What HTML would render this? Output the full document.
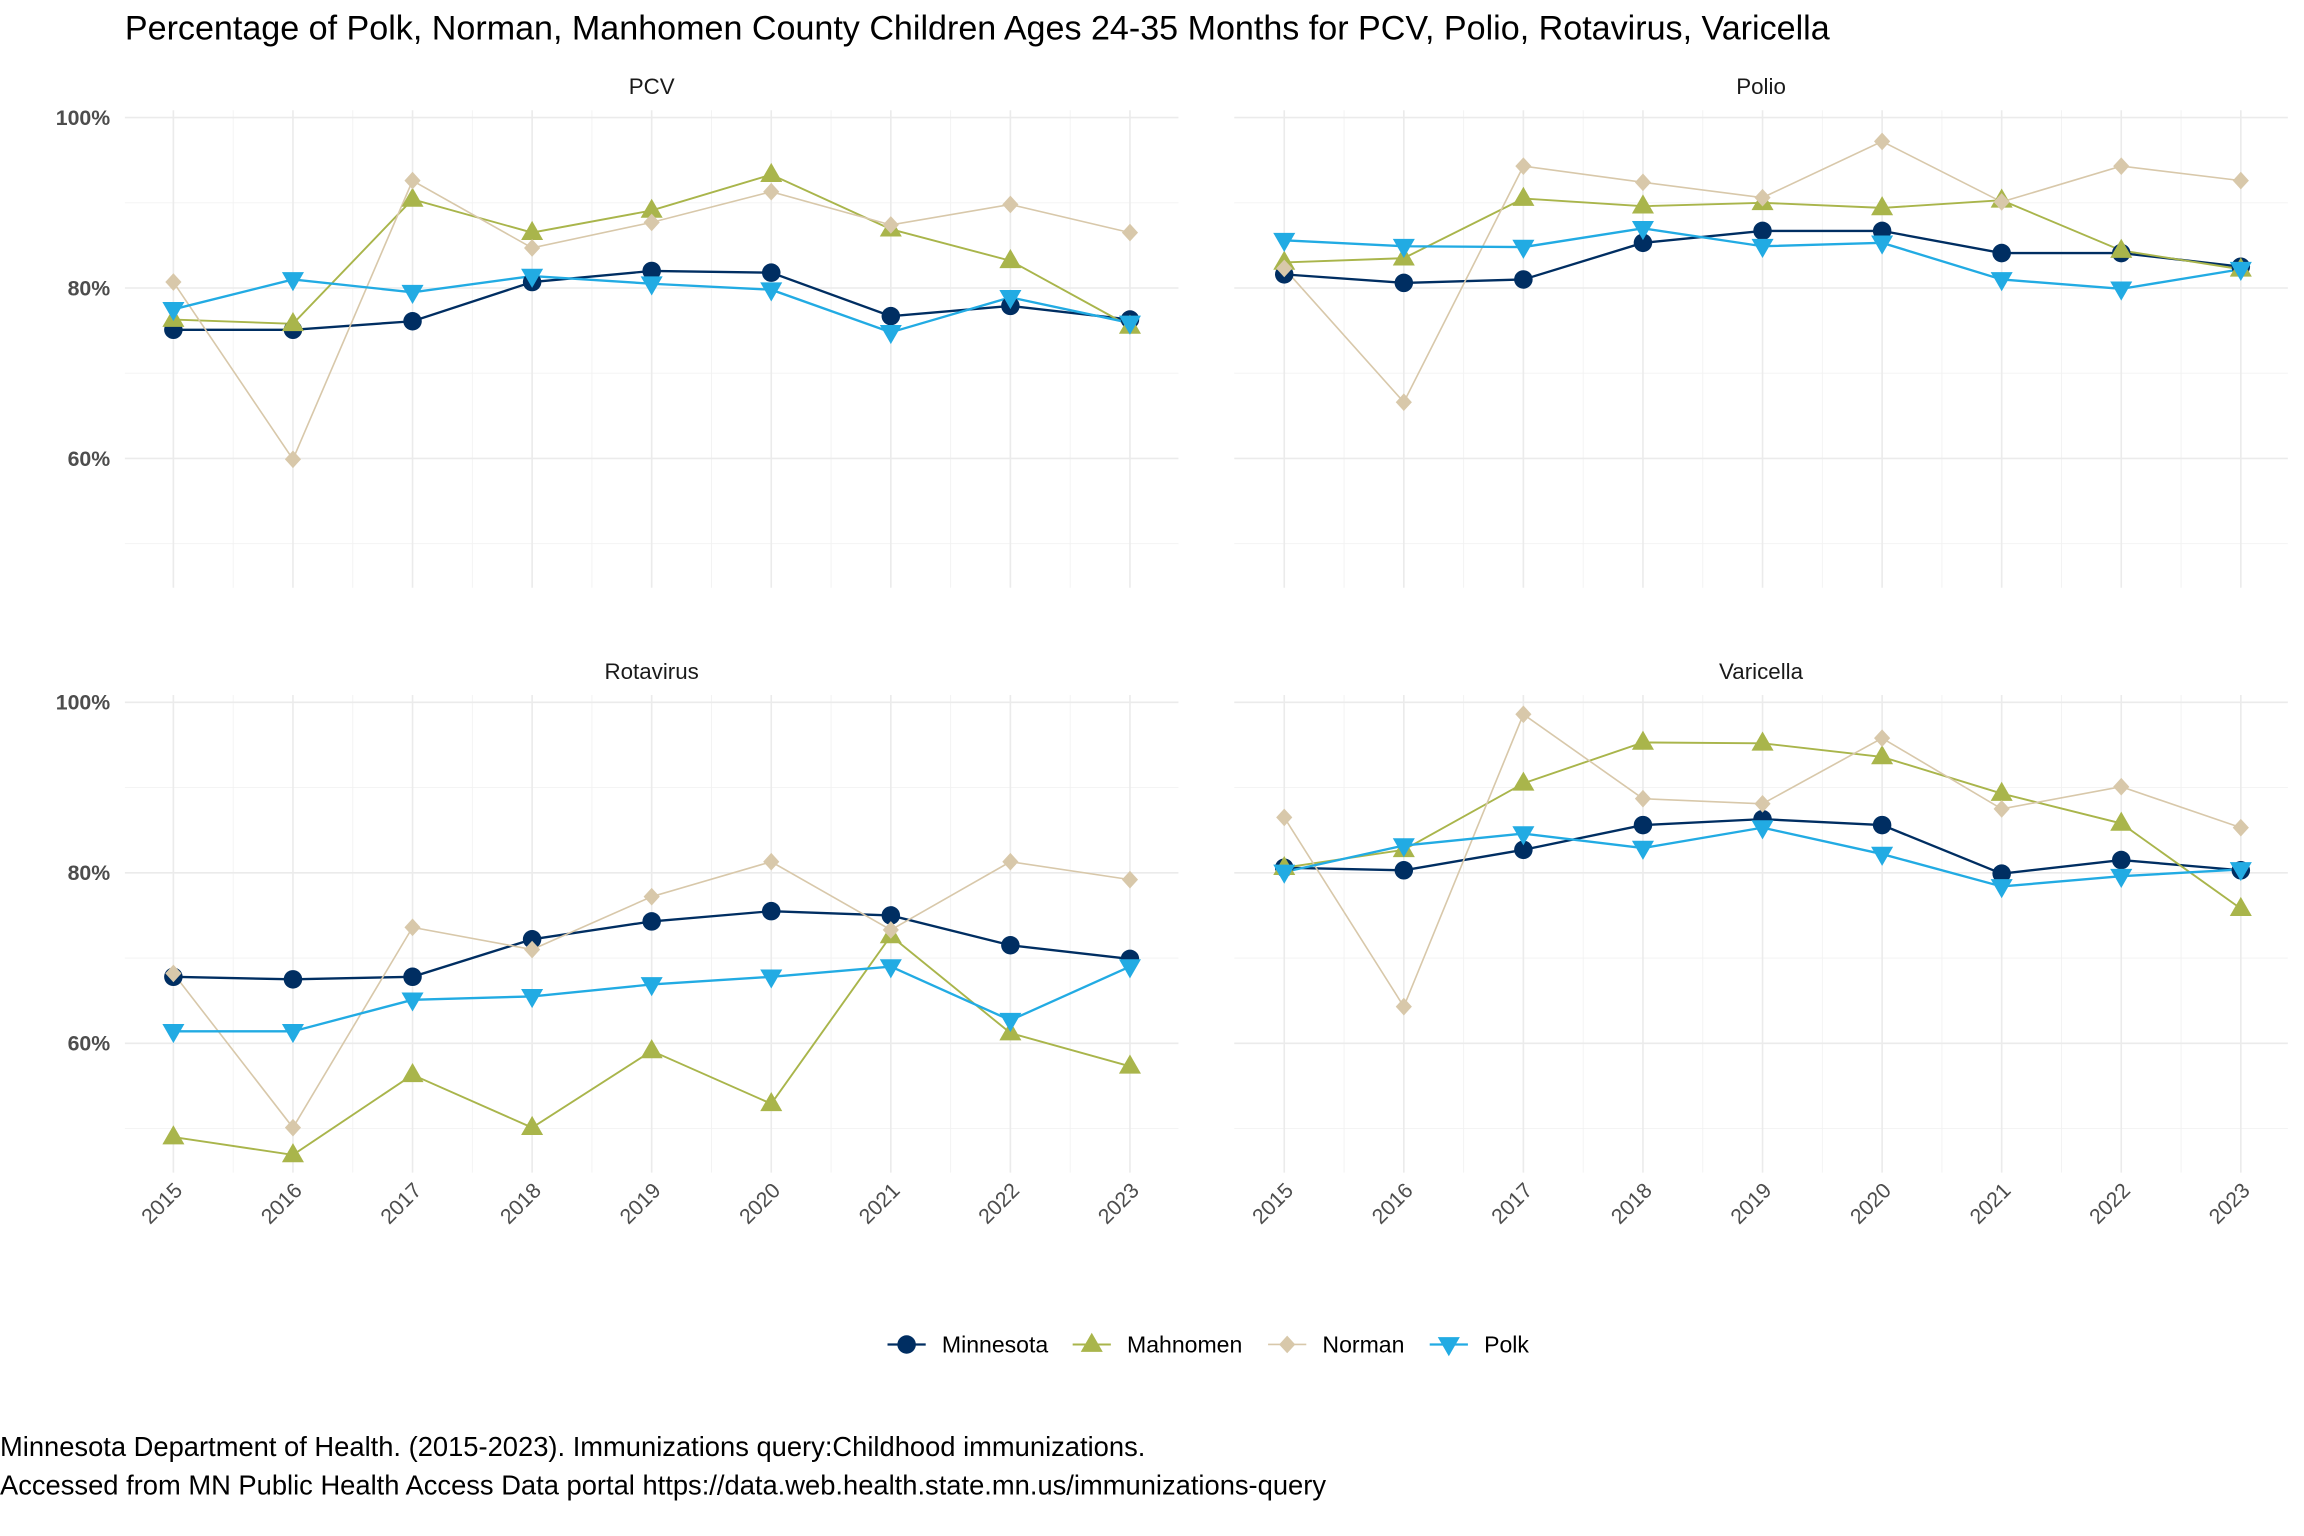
<!DOCTYPE html>
<html><head><meta charset="utf-8"><style>
html,body{margin:0;padding:0;background:#fff}
svg{display:block}
text{font-family:"Liberation Sans",sans-serif}
</style></head><body>
<svg id="chart" xmlns="http://www.w3.org/2000/svg" width="2304" height="1536" viewBox="0 0 1568 1045.33">
<rect width="1568" height="1046" fill="#fff"/>
<text x="85" y="27" font-size="23.2" fill="#000">Percentage of Polk, Norman, Manhomen County Children Ages 24-35 Months for PCV, Polio, Rotavirus, Varicella</text>
<g id="panels"></g>
<g id="legend"></g>
<text x="0" y="991" font-size="18.6" fill="#000">Minnesota Department of Health. (2015-2023). Immunizations query:Childhood immunizations.</text>
<text x="0" y="1017" font-size="18.6" fill="#000">Accessed from MN Public Health Access Data portal https://data.web.health.state.mn.us/immunizations-query</text>
</svg>
<script>
const years = [2015,2016,2017,2018,2019,2020,2021,2022,2023];
const seriesNames = ["Minnesota","Mahnomen","Norman","Polk"];
const panelNames = ["PCV","Polio","Rotavirus","Varicella"];
const pcvMinnesota = [75.1,75.1,76.1,80.7,82.0,81.8,76.7,77.9,76.3];
const pcvMahnomen = [76.3,75.8,90.4,86.5,89.1,93.3,86.9,83.2,75.5];
const pcvNorman = [80.7,59.9,92.6,84.7,87.7,91.3,87.4,89.8,86.5];
const pcvPolk = [77.5,81.0,79.5,81.4,80.5,79.8,74.8,78.9,75.9];
const polioMinnesota = [81.6,80.6,81.0,85.3,86.7,86.7,84.1,84.1,82.5];
const polioMahnomen = [83.0,83.5,90.5,89.6,90.0,89.4,90.3,84.4,82.2];
const polioNorman = [82.3,66.6,94.3,92.4,90.6,97.2,90.1,94.3,92.6];
const polioPolk = [85.6,84.9,84.8,87.0,84.9,85.3,81.0,79.9,82.2];
const rotaMinnesota = [67.8,67.5,67.8,72.2,74.3,75.5,75.0,71.5,69.9];
const rotaMahnomen = [49.0,46.9,56.3,50.1,59.1,52.9,72.6,61.2,57.3];
const rotaNorman = [68.2,50.1,73.6,71.0,77.2,81.3,73.3,81.3,79.2];
const rotaPolk = [61.4,61.4,65.1,65.5,66.9,67.8,69.0,62.7,69.0];
const variMinnesota = [80.6,80.3,82.7,85.6,86.3,85.6,79.9,81.5,80.3];
const variMahnomen = [80.6,82.7,90.5,95.3,95.2,93.6,89.3,85.8,75.8];
const variNorman = [86.5,64.3,98.6,88.7,88.1,95.8,87.5,90.1,85.3];
const variPolk = [80.1,83.2,84.6,82.9,85.3,82.2,78.4,79.6,80.4];
const yTicks = [60,80,100];
const yMinor = [50,70,90];
const yTickLabels = ["60%","80%","100%"];

const panelData = [
  [pcvMinnesota,pcvMahnomen,pcvNorman,pcvPolk],
  [polioMinnesota,polioMahnomen,polioNorman,polioPolk],
  [rotaMinnesota,rotaMahnomen,rotaNorman,rotaPolk],
  [variMinnesota,variMahnomen,variNorman,variPolk]
];
const colors = ["#002e62","#a9b54b","#d8c8aa","#22abe3"];
const widths = [1.6,1.3,1.1,1.6];
const NS = "http://www.w3.org/2000/svg";
function mk(tag, attrs, parent){const e=document.createElementNS(NS,tag);for(const k in attrs)e.setAttribute(k,attrs[k]);parent.appendChild(e);return e;}
function marker(kind, x, y, color, parent){
  let e;
  if(kind===0){e=mk("circle",{cx:x,cy:y,r:6.3,fill:color},parent);}
  else if(kind===1){e=mk("polygon",{points:`${x},${y-8} ${x-7.5},${y+5} ${x+7.5},${y+5}`,fill:color},parent);}
  else if(kind===2){e=mk("polygon",{points:`${x},${y-6} ${x-5.5},${y} ${x},${y+6} ${x+5.5},${y}`,fill:color},parent);}
  else {e=mk("polygon",{points:`${x},${y+8} ${x-7.5},${y-5} ${x+7.5},${y-5}`,fill:color},parent);}
  return e;
}
const panelsG = document.getElementById("panels");
const layouts = [
  {x0:85,x1:802,xa:118,xb:769,y100:80,y80:196,top:75,bot:400},
  {x0:840,x1:1557,xa:874,xb:1525,y100:80,y80:196,top:75,bot:400},
  {x0:85,x1:802,xa:118,xb:769,y100:478,y80:594,top:473,bot:798},
  {x0:840,x1:1557,xa:874,xb:1525,y100:478,y80:594,top:473,bot:798}
];
panelNames.forEach((pn,pi)=>{
  const L = layouts[pi];
  const xS = i => L.xa + (L.xb-L.xa)*i/(years.length-1);
  const yS = v => L.y100 + (100-v)*(L.y80-L.y100)/20;
  const g = mk("g",{},panelsG);
  
  
  const strip = mk("text",{x:(L.x0+L.x1)/2,y:L.top-11,"font-size":15.2,"text-anchor":"middle",fill:"#1a1a1a"},g);
  strip.textContent = pn;
  
  
  yMinor.forEach(v=>{mk("line",{x1:L.x0,x2:L.x1,y1:yS(v),y2:yS(v),stroke:"#f2f2f2","stroke-width":0.6},g);});
  years.forEach((yr,i)=>{ if(i<years.length-1){const xm=(xS(i)+xS(i+1))/2;mk("line",{x1:xm,x2:xm,y1:L.top,y2:L.bot,stroke:"#f2f2f2","stroke-width":0.6},g);} });
  yTicks.forEach((v,k)=>{
    mk("line",{x1:L.x0,x2:L.x1,y1:yS(v),y2:yS(v),stroke:"#ebebeb","stroke-width":1.1},g);
    if(pi%2===0){
      const t = mk("text",{x:75,y:yS(v)+5,"font-size":14.5,"font-weight":"bold","text-anchor":"end",fill:"#4d4d4d"},g);
      t.textContent = yTickLabels[k];
      
      
    }
  });
  years.forEach((yr,i)=>{
    mk("line",{x1:xS(i),x2:xS(i),y1:L.top,y2:L.bot,stroke:"#ebebeb","stroke-width":1.1},g);
    if(pi>=2){
      const tx = xS(i)+7, ty = L.bot+13;
      const t = mk("text",{x:tx,y:ty,"font-size":14.5,"text-anchor":"end",fill:"#4d4d4d",transform:`rotate(-45 ${tx} ${ty})`},g);
      t.textContent = yr;
      
      
    }
  });
  panelData[pi].forEach((vals,si)=>{
    const pts = vals.map((v,i)=>xS(i)+","+yS(v)).join(" ");
    const pl = mk("polyline",{points:pts,fill:"none",stroke:colors[si],"stroke-width":widths[si]},g);
    
    
  });
  panelData[pi].forEach((vals,si)=>{
    vals.forEach((v,i)=>{
      const m = marker(si,xS(i),yS(v),colors[si],g);
      
      
    });
  });
});
const lg = document.getElementById("legend");
const legX = [617,743,876,986];
seriesNames.forEach((n,si)=>{
  const g = mk("g",{},lg);
  
  
  mk("line",{x1:legX[si]-13,x2:legX[si]+13,y1:915,y2:915,stroke:colors[si],"stroke-width":widths[si]},g);
  marker(si,legX[si],915,colors[si],g);
  const t = mk("text",{x:legX[si]+24,y:920.5,"font-size":15.7,fill:"#000"},g);
  t.textContent = n;
});
</script>
</body></html>
